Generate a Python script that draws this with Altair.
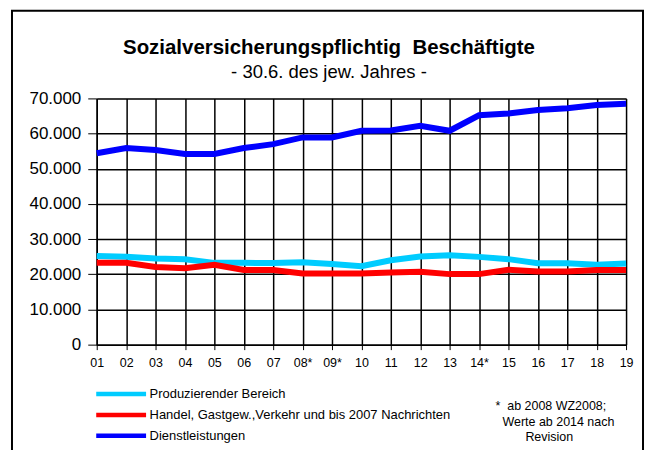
import altair as alt
import pandas as pd

years = ["01", "02", "03", "04", "05", "06", "07", "08*", "09*", "10",
         "11", "12", "13", "14*", "15", "16", "17", "18", "19"]
produzierend = [25200, 25000, 24500, 24300, 23250, 23250, 23200, 23450, 22900, 22300,
                24000, 25050, 25400, 24950, 24300, 23150, 23150, 22700, 23050]
handel = [23300, 23300, 22100, 21700, 22700, 21200, 21200, 20250, 20250, 20250,
          20500, 20700, 20050, 20050, 21300, 20800, 20800, 21200, 21200]
dienst = [54400, 55900, 55350, 54200, 54200, 55900, 57000, 58900, 58900, 60800,
          60900, 62200, 60800, 65200, 65700, 66700, 67200, 68100, 68500]
series_names = ["Produzierender Bereich",
                "Handel, Gastgew.,Verkehr und bis 2007 Nachrichten",
                "Dienstleistungen"]
series_colors = ["#00CCFF", "#FF0000", "#0000FF"]
title_text = "Sozialversicherungspflichtig\u00a0 Beschäftigte"
subtitle_text = "- 30.6. des jew. Jahres -"
footnote_lines = ["*\u00a0 ab 2008 WZ2008;", "Werte ab 2014 nach", "Revision"]
y_ticks = [0, 10000, 20000, 30000, 40000, 50000, 60000, 70000]

rows = []
for name, vals in zip(series_names, [produzierend, handel, dienst]):
    for yr, v in zip(years, vals):
        rows.append({"Jahr": yr, "Wert": v, "Serie": name})
df = pd.DataFrame(rows)

FONT = "Liberation Sans"

lines = alt.Chart(df).mark_line(strokeWidth=6, clip=False).encode(
    x=alt.X("Jahr:N", sort=years, scale=alt.Scale(type="point", padding=0),
            axis=alt.Axis(title=None, labelAngle=0, labelFontSize=12.5, labelFont=FONT,
                          labelColor="black", tickColor="black", tickSize=5,
                          labelPadding=7, grid=True, gridColor="black", gridOpacity=1,
                          gridWidth=1.5, domainColor="black", domainWidth=1.5)),
    y=alt.Y("Wert:Q", scale=alt.Scale(domain=[0, 70000], nice=False),
            axis=alt.Axis(title=None, values=y_ticks, labelFontSize=17, labelFont=FONT,
                          labelColor="black", tickColor="black", tickSize=9,
                          labelPadding=7, grid=True, gridColor="black", gridOpacity=1,
                          gridWidth=1.5, domainColor="black", domainWidth=1.5,
                          labelExpr="replace(format(datum.value, ',d'), ',', '.')")),
    color=alt.Color("Serie:N", sort=series_names,
                    scale=alt.Scale(domain=series_names, range=series_colors),
                    legend=alt.Legend(title=None, orient="none", legendX=17, legendY=289,
                                      symbolType="M-5,0H5", symbolSize=100,
                                      symbolStrokeWidth=4.5, labelOffset=21,
                                      labelFontSize=13, labelFont=FONT, labelColor="black",
                                      rowPadding=2, labelLimit=450)),
    order=alt.Order("Serie:N"),
)

one = pd.DataFrame({"a": [0]})


def text_layer(txt, x, y, size, weight="normal", align="left"):
    return alt.Chart(pd.DataFrame({"t": [txt]})).mark_text(
        align=align, baseline="middle", fontSize=size, font=FONT, fontWeight=weight,
        color="black").encode(text="t:N", x=alt.value(x), y=alt.value(y))


title_l = text_layer(title_text, 233, -51, 20.5, weight="bold", align="center")
subtitle_l = text_layer(subtitle_text, 233, -26, 18.5, align="center")
note1 = text_layer(footnote_lines[0], 400, 309, 12.5)
note2 = text_layer(footnote_lines[1], 407, 325, 12.5)
note3 = text_layer(footnote_lines[2], 430, 340, 12.5)

frame = alt.Chart(one).mark_rect(
    fill=None, stroke="black", strokeWidth=2, clip=False).encode(
    x=alt.value(-85), x2=alt.value(548), y=alt.value(-88), y2=alt.value(420))

chart = alt.layer(frame, lines, title_l, subtitle_l, note1, note2, note3).properties(
    width=531, height=247,
    autosize=alt.AutoSizeParams(type="none"),
    padding={"left": 89, "top": 90, "right": 20, "bottom": 105},
).configure_view(stroke="black", strokeWidth=1.5).configure(background="white")

chart.save("out.html", embed_options={"renderer": "svg", "actions": False})
